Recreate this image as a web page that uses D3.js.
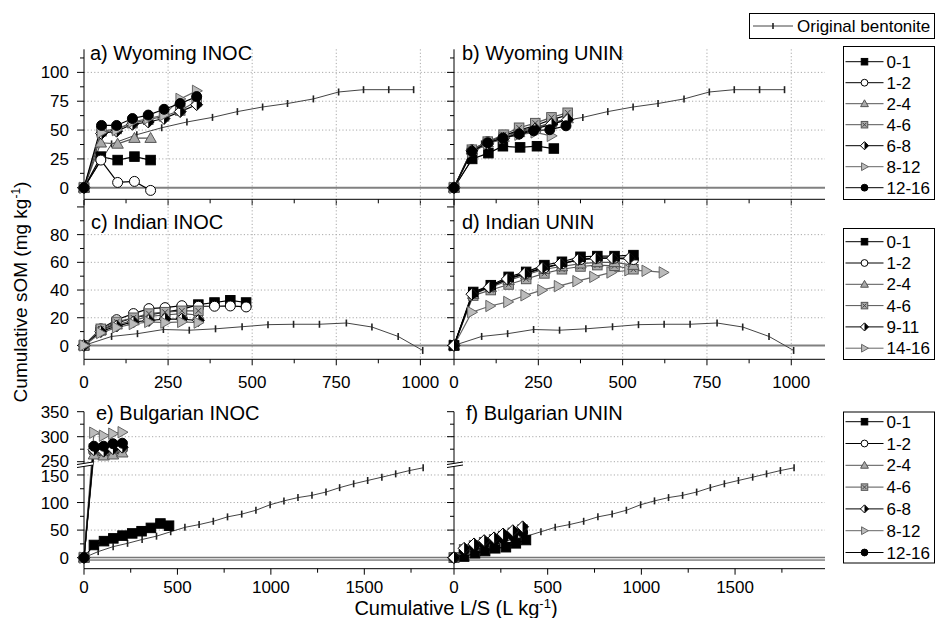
<!DOCTYPE html>
<html>
<head>
<meta charset="utf-8">
<script src="https://cdn.jsdelivr.net/npm/d3@7"></script>
<style>
  body { margin: 0; background: #fff; }
  svg text { font-family: "Liberation Sans", Arial, sans-serif; fill: #000; }
</style>
</head>
<body>
<div id="chart"></div>
<script>
// ---- data ----
const layersA = ["0-1", "1-2", "2-4", "4-6", "6-8", "8-12", "12-16"];
const layersIndian = ["0-1", "1-2", "2-4", "4-6", "9-11", "14-16"];

// original bentonite (same curve in both panels of a row)
const bentWyX = [0, 82, 157, 231, 306, 382, 456, 531, 605, 682, 757, 831, 906, 980];
const bentWyY = [0, 38, 46, 52, 57, 61, 66, 70, 73, 77, 83, 85, 85, 85];
const bentInX = [0, 82, 159, 236, 313, 391, 470, 547, 623, 700, 780, 856, 934, 1007];
const bentInY = [0, 6.5, 8.5, 11.5, 11, 12, 13.5, 15, 15.3, 15.3, 16.2, 13.3, 6.5, -3.6];
const bentBgX = [0, 76, 156, 233, 311, 388, 464, 540, 616, 692, 768, 844, 920, 996, 1070, 1145, 1220, 1295, 1368, 1443, 1518, 1594, 1668, 1742, 1815];
const bentBgY = [0, 11, 20, 26, 33, 39, 47, 55, 60, 66, 74, 79, 86, 96, 103, 109, 113, 119, 127, 134, 140, 146, 152, 158, 163];

// a) Wyoming INOC
const wyInocXs = [0, 50, 100, 150, 198];
const wyInocXl = [0, 52, 97, 144, 191, 238, 286, 335];
const wyInoc01 = [0, 27, 24, 27, 24];
const wyInoc12 = [0, 24, 4.6, 5.5, -2.3];
const wyInoc24 = [0, 39, 38, 43, 43];
const wyInoc46 = [0, 49, 51, 56, 59, 62, 67, 75];
const wyInoc68 = [0, 47, 49, 55, 57, 60, 66, 72];
const wyInoc812 = [0, 48, 50, 57, 60, 63, 77, 84];
const wyInoc1216 = [0, 54, 54, 60, 63, 68, 73, 79];

// b) Wyoming UNIN
const wyUnX01 = [0, 54, 102, 145, 196, 246, 296];
const wyUnX = [0, 53, 100, 147, 193, 241, 289, 337];
const wyUnX1216 = [0, 53, 100, 145, 193, 236, 284, 332];
const wyUn01 = [0, 25, 30, 36, 35, 36, 34];
const wyUn12 = [0, 33, 40, 45, 50, 54, 59, 63];
const wyUn24 = [0, 33, 39, 44, 48, 52, 56, 60];
const wyUn46 = [0, 33, 40, 46, 52, 56, 61, 65];
const wyUn68 = [0, 32, 38, 43, 47, 51, 55, 59];
const wyUn812 = [0, 31, 38, 43, 46, 48, 45];
const wyUn1216 = [0, 31.5, 39, 43, 46.5, 49.4, 50.3, 53.7];

// c) Indian INOC
const inInX = [0, 50, 97, 147, 193, 241, 291, 340, 388, 435, 482];
const inIn01 = [0, 11, 16, 20, 22, 24, 26, 29.5, 31, 32.6, 31];
const inIn12 = [0, 12, 18.6, 23, 26.6, 27.3, 28.7, 28.3, 28.3, 28.5, 27.8];
const inIn24 = [0, 11, 15, 18, 21, 22, 23, 22];
const inIn46 = [0, 12, 17, 20, 23, 24, 25, 25];
const inIn911 = [0, 10, 14, 17, 18, 19, 19, 18];
const inIn1416 = [0, 9, 13, 15.5, 17, 16.5, 17, 16.5];

// d) Indian UNIN
const inUnX = [0, 57, 109, 162, 214, 268, 320, 375, 425, 476, 532];
const inUnX911 = [0, 53, 105, 158, 210, 262, 315, 368, 420, 470, 520];
const inUnX1416 = [0, 53, 107, 160, 211, 261, 310, 365, 415, 466, 519, 570, 621];
const inUn01 = [0, 38.6, 43.5, 49.5, 53.1, 58, 60.4, 64, 64.5, 64.5, 65.2];
const inUn12 = [0, 38, 43, 48, 52, 56, 59, 62, 63, 63, 62];
const inUn24 = [0, 37, 42, 47, 51, 55, 57, 59, 60, 60, 58];
const inUn46 = [0, 36, 40, 44, 48, 52, 55, 57, 58, 57.5, 55];
const inUn911 = [0, 37, 42, 48, 52, 56, 59, 62, 63, 63, 63];
const inUn1416 = [0, 24, 28.5, 31.4, 36.2, 39.9, 42.8, 46.4, 49.5, 52.7, 54.3, 53.9, 52.7];

// e) Bulgarian INOC
const bgInX01 = [0, 53, 107, 157, 206, 258, 308, 358, 409, 455];
const bgInX = [0, 53, 105, 155, 205];
const bgIn01 = [0, 23, 30, 35, 40, 44, 48, 54, 62, 58];
const bgIn12 = [0, 270, 268, 272, 275];
const bgIn24 = [0, 264, 262, 264, 268];
const bgIn46 = [0, 276, 273, 278, 281];
const bgIn68 = [0, 274, 271, 276, 279];
const bgIn812 = [0, 308, 302, 306, 309];
const bgIn1216 = [0, 281, 281, 286, 287];

// f) Bulgarian UNIN
const bgUnX01 = [0, 54, 112, 166, 220, 277, 330, 384];
const bgUnX = [0, 54, 107, 161, 214, 262, 314, 366];
const bgUn01 = [0, 2, 8, 12, 17, 19, 26, 32];
const bgUn46 = [0, 15, 22, 28, 33, 39, 45, 51];
const bgUn68 = [0, 17, 25, 31, 36, 43, 49, 56];
const bgUn1216 = [0, 13, 20, 25, 30, 35, 40, 46];

const xTicksTop = [0, 250, 500, 750, 1000];
const xTicksBg = [0, 500, 1000, 1500];
const yTicksWy = [0, 25, 50, 75, 100];
const yTicksIn = [0, 20, 40, 60, 80];
const yTicksBgLow = [0, 50, 100, 150];
const yTicksBgHigh = [250, 300, 350];

// ---- styles ----
const mk = {
  "0-1":   { shape: "square", fill: "#000", stroke: "#000", line: "#000" },
  "1-2":   { shape: "circle", fill: "#fff", stroke: "#000", line: "#000" },
  "2-4":   { shape: "triUp", fill: "#aaa", stroke: "#555", line: "#555" },
  "4-6":   { shape: "xsq", fill: "#aaa", stroke: "#555", line: "#555" },
  "6-8":   { shape: "half", fill: "#fff", stroke: "#000", line: "#000" },
  "9-11":  { shape: "half", fill: "#fff", stroke: "#000", line: "#000" },
  "8-12":  { shape: "triRight", fill: "#bbb", stroke: "#666", line: "#666" },
  "14-16": { shape: "triRight", fill: "#bbb", stroke: "#666", line: "#666" },
  "12-16": { shape: "circle", fill: "#000", stroke: "#000", line: "#000" }
};

const W = 937, H = 618;
const svg = d3.select("#chart").append("svg").attr("width", W).attr("height", H);
svg.append("rect").attr("width", W).attr("height", H).attr("fill", "#fff");

function marker(g, shape, cx, cy, s, st) {
  const h = s / 2;
  if (shape === "square") {
    g.append("rect").attr("x", cx - h).attr("y", cy - h).attr("width", s).attr("height", s)
      .attr("fill", st.fill).attr("stroke", st.stroke).attr("stroke-width", 1);
  } else if (shape === "circle") {
    g.append("circle").attr("cx", cx).attr("cy", cy).attr("r", h * 1.05)
      .attr("fill", st.fill).attr("stroke", st.stroke).attr("stroke-width", 1);
  } else if (shape === "triUp") {
    const r = h * 1.2;
    g.append("path").attr("d", `M${cx},${cy - r}L${cx + r},${cy + r * 0.75}L${cx - r},${cy + r * 0.75}Z`)
      .attr("fill", st.fill).attr("stroke", st.stroke).attr("stroke-width", 1);
  } else if (shape === "triRight") {
    const r = h * 1.2;
    g.append("path").attr("d", `M${cx + r},${cy}L${cx - r * 0.75},${cy - r}L${cx - r * 0.75},${cy + r}Z`)
      .attr("fill", st.fill).attr("stroke", st.stroke).attr("stroke-width", 1);
  } else if (shape === "xsq") {
    g.append("rect").attr("x", cx - h).attr("y", cy - h).attr("width", s).attr("height", s)
      .attr("fill", st.fill).attr("stroke", st.stroke).attr("stroke-width", 1);
    const q = h * 0.6;
    g.append("path").attr("d", `M${cx - q},${cy - q}L${cx + q},${cy + q}M${cx + q},${cy - q}L${cx - q},${cy + q}`)
      .attr("stroke", "#444").attr("stroke-width", 1).attr("fill", "none");
  } else if (shape === "half") {
    const r = h * 1.25;
    g.append("path").attr("d", `M${cx},${cy - r}L${cx + r},${cy}L${cx},${cy + r}L${cx - r},${cy}Z`)
      .attr("fill", "#fff").attr("stroke", "none");
    g.append("path").attr("d", `M${cx},${cy - r}L${cx + r},${cy}L${cx},${cy + r}Z`).attr("fill", "#000");
    g.append("path").attr("d", `M${cx},${cy - r}L${cx + r},${cy}L${cx},${cy + r}L${cx - r},${cy}Z`)
      .attr("fill", "none").attr("stroke", "#000").attr("stroke-width", 1);
  }
}

// ---- panel geometry ----
const cols = [[84, 454], [454, 825]];
const rows = [
  { top: 49.3, bot: 199.3, dom: [-10, 120], xdom: [0, 1100] },
  { top: 200, bot: 359.3, dom: [-10, 105], xdom: [0, 1100] },
  { top: 411.7, bot: 568.7, xdom: [0, 1980] }
];
const yLowBg = d3.scaleLinear().domain([-20, 165]).range([568.7, 466.7]);
const yHighBg = d3.scaleLinear().domain([244, 350]).range([464.7, 411.7]);
const yBg = v => (v >= 200 ? yHighBg(v) : yLowBg(v));

function makePanel(ri, ci, cfg) {
  const row = rows[ri], [x0, x1] = cols[ci];
  const x = d3.scaleLinear().domain(row.xdom).range([x0, x1]);
  const y = ri === 2 ? yBg : d3.scaleLinear().domain(row.dom).range([row.bot, row.top]);
  const g = svg.append("g");

  // grid
  cfg.grid.forEach(v => g.append("line").attr("x1", x0).attr("x2", x1).attr("y1", y(v)).attr("y2", y(v))
    .attr("stroke", "#aaa").attr("stroke-dasharray", "1.2,2.2").attr("stroke-width", 1));
  (cfg.vgrid || []).forEach(v => g.append("line").attr("x1", x(v)).attr("x2", x(v)).attr("y1", row.top).attr("y2", row.bot)
    .attr("stroke", "#aaa").attr("stroke-dasharray", "1.2,2.2").attr("stroke-width", 1));

  // zero line
  if (ri === 2) {
    g.append("line").attr("x1", x0).attr("x2", x1).attr("y1", y(0) + 1).attr("y2", y(0) + 1)
      .attr("stroke", "#777").attr("stroke-width", 4);
    g.append("line").attr("x1", x0).attr("x2", x1).attr("y1", y(0) + 1).attr("y2", y(0) + 1)
      .attr("stroke", "#d8d8d8").attr("stroke-width", 1.5);
  } else {
    g.append("line").attr("x1", x0).attr("x2", x1).attr("y1", y(0)).attr("y2", y(0))
      .attr("stroke", "#808080").attr("stroke-width", 2);
  }

  // axes
  g.append("line").attr("x1", x0).attr("x2", x0).attr("y1", row.top).attr("y2", row.bot).attr("stroke", "#000");
  g.append("line").attr("x1", x0).attr("x2", x1).attr("y1", row.bot).attr("y2", row.bot).attr("stroke", "#000");
  cfg.yMajor.forEach(v => {
    g.append("line").attr("x1", x0 - 7).attr("x2", x0).attr("y1", y(v)).attr("y2", y(v)).attr("stroke", "#000");
    if (ci === 0 && cfg.yLabels.includes(v))
      g.append("text").attr("x", 69).attr("y", y(v) + (cfg.yShift ? (cfg.yShift[v] || 0) : 0)).attr("dy", "0.36em")
        .attr("text-anchor", "end").attr("font-size", 17).text(v);
  });
  cfg.yMinor.forEach(v => g.append("line").attr("x1", x0 - 4).attr("x2", x0).attr("y1", y(v)).attr("y2", y(v)).attr("stroke", "#000"));
  cfg.xMajor.forEach(v => {
    g.append("line").attr("x1", x(v)).attr("x2", x(v)).attr("y1", row.bot).attr("y2", row.bot + 6).attr("stroke", "#000");
    if (cfg.xLabels) g.append("text").attr("x", x(v)).attr("y", cfg.xLabelY).attr("text-anchor", "middle")
      .attr("font-size", 17).text(v);
  });
  cfg.xMinor.forEach(v => g.append("line").attr("x1", x(v)).attr("x2", x(v)).attr("y1", row.bot).attr("y2", row.bot + 4).attr("stroke", "#000"));

  // original bentonite
  const bx = cfg.bent[0], by = cfg.bent[1];
  const pts = bx.map((v, i) => [x(v), y(by[i])]);
  g.append("path").attr("d", d3.line()(pts)).attr("fill", "none").attr("stroke", "#444").attr("stroke-width", 1);
  pts.slice(1).forEach(p => g.append("line").attr("x1", p[0]).attr("x2", p[0]).attr("y1", p[1] - 3.5).attr("y2", p[1] + 3.5)
    .attr("stroke", "#222").attr("stroke-width", 1.6));

  // series
  cfg.series.forEach(s => {
    const st = mk[s.name];
    const p = s.x.map((v, i) => [x(v), y(s.y[i])]);
    g.append("path").attr("d", d3.line()(p)).attr("fill", "none").attr("stroke", st.line).attr("stroke-width", 1.2);
  });
  cfg.series.forEach(s => {
    const st = mk[s.name];
    s.x.forEach((v, i) => marker(g, st.shape, x(v), y(s.y[i]), 9.5, st));
  });

  g.append("text").attr("x", cfg.titleX).attr("y", cfg.titleY).attr("font-size", 20).text(cfg.title);
  return g;
}

const rowCfg = [
  { grid: [25, 50, 75, 100], vgrid: [250, 500, 750, 1000], yMajor: yTicksWy, yLabels: yTicksWy,
    yMinor: [12.5, 37.5, 62.5, 87.5, 112.5], xMajor: xTicksTop, xMinor: [125, 375, 625, 875], xLabels: false,
    bent: [bentWyX, bentWyY], titleY: 60 },
  { grid: [20, 40, 60, 80], vgrid: [250, 500, 750, 1000], yMajor: [...yTicksIn, 100], yLabels: yTicksIn,
    yMinor: [10, 30, 50, 70, 90], xMajor: xTicksTop, xMinor: [125, 375, 625, 875], xLabels: true, xLabelY: 388,
    bent: [bentInX, bentInY], titleY: 229 },
  { grid: [50, 100, 150, 250, 300], yMajor: [...yTicksBgLow, ...yTicksBgHigh], yLabels: [...yTicksBgLow, ...yTicksBgHigh],
    yShift: { 250: -1, 150: 1 },
    yMinor: [25, 75, 125, 275, 325], xMajor: xTicksBg, xMinor: [250, 750, 1250, 1750], xLabels: true, xLabelY: 593,
    bent: [bentBgX, bentBgY], titleY: 420 }
];

const S = (name, x, y) => ({ name, x, y });
makePanel(0, 0, Object.assign({}, rowCfg[0], { title: "a) Wyoming INOC", titleX: 90, series: [
  S("0-1", wyInocXs, wyInoc01), S("1-2", wyInocXs, wyInoc12), S("2-4", wyInocXs, wyInoc24),
  S("4-6", wyInocXl, wyInoc46), S("6-8", wyInocXl, wyInoc68), S("8-12", wyInocXl, wyInoc812), S("12-16", wyInocXl, wyInoc1216)] }));
makePanel(0, 1, Object.assign({}, rowCfg[0], { title: "b) Wyoming UNIN", titleX: 462, series: [
  S("0-1", wyUnX01, wyUn01), S("1-2", wyUnX, wyUn12), S("2-4", wyUnX, wyUn24),
  S("4-6", wyUnX, wyUn46), S("6-8", wyUnX, wyUn68), S("8-12", wyUnX.slice(0, 7), wyUn812), S("12-16", wyUnX1216, wyUn1216)] }));
makePanel(1, 0, Object.assign({}, rowCfg[1], { title: "c) Indian INOC", titleX: 91, series: [
  S("0-1", inInX, inIn01), S("1-2", inInX, inIn12), S("2-4", inInX.slice(0, 8), inIn24),
  S("4-6", inInX.slice(0, 8), inIn46), S("9-11", inInX.slice(0, 8), inIn911), S("14-16", inInX.slice(0, 8), inIn1416)] }));
makePanel(1, 1, Object.assign({}, rowCfg[1], { title: "d) Indian UNIN", titleX: 462, series: [
  S("14-16", inUnX1416, inUn1416), S("4-6", inUnX, inUn46), S("2-4", inUnX, inUn24), S("1-2", inUnX, inUn12),
  S("0-1", inUnX, inUn01), S("9-11", inUnX911, inUn911)] }));
makePanel(2, 0, Object.assign({}, rowCfg[2], { title: "e) Bulgarian INOC", titleX: 96, series: [
  S("0-1", bgInX01, bgIn01), S("1-2", bgInX, bgIn12), S("2-4", bgInX, bgIn24), S("4-6", bgInX, bgIn46),
  S("6-8", bgInX, bgIn68), S("8-12", bgInX, bgIn812), S("12-16", bgInX, bgIn1216)] }));
makePanel(2, 1, Object.assign({}, rowCfg[2], { title: "f) Bulgarian UNIN", titleX: 466, series: [
  S("0-1", bgUnX01, bgUn01), S("4-6", bgUnX, bgUn46), S("12-16", bgUnX, bgUn1216), S("6-8", bgUnX, bgUn68)] }));

// axis break marks on the Bulgarian panels
cols.forEach(([x0]) => {
  const gb = svg.append("g");
  gb.append("path").attr("d", `M${x0 - 7},${467.5}L${x0 + 9},${465}L${x0 + 9},${462}L${x0 - 7},${464.5}Z`)
    .attr("fill", "#fff").attr("stroke", "none");
  gb.append("path").attr("d", `M${x0 - 7},${467.5}L${x0 + 9},${465}M${x0 - 7},${464.5}L${x0 + 9},${462}`)
    .attr("stroke", "#000").attr("stroke-width", 1);
});

// ---- legends ----
function legend(x, y, w, h, names, step, y0) {
  const g = svg.append("g");
  g.append("rect").attr("x", x).attr("y", y).attr("width", w).attr("height", h)
    .attr("fill", "#fff").attr("stroke", "#000").attr("stroke-width", 1);
  names.forEach((n, i) => {
    const st = mk[n], cy = y0 + i * step;
    g.append("line").attr("x1", x + 2).attr("x2", x + 40).attr("y1", cy).attr("y2", cy).attr("stroke", st.line);
    marker(g, st.shape, x + 21, cy, 6.5, st);
    g.append("text").attr("x", x + 43).attr("y", cy).attr("dy", "0.36em").attr("font-size", 17).text(n);
  });
}
// original bentonite key
const gk = svg.append("g");
gk.append("rect").attr("x", 749.5).attr("y", 13.5).attr("width", 185).attr("height", 25)
  .attr("fill", "#fff").attr("stroke", "#000");
gk.append("line").attr("x1", 753).attr("x2", 793).attr("y1", 26).attr("y2", 26).attr("stroke", "#444");
gk.append("line").attr("x1", 773).attr("x2", 773).attr("y1", 23).attr("y2", 29).attr("stroke", "#222").attr("stroke-width", 1.6);
gk.append("text").attr("x", 797).attr("y", 26).attr("dy", "0.36em").attr("font-size", 17).text("Original bentonite");

legend(843.5, 46.5, 91, 153, layersA, 21, 61.7);
legend(843.5, 228.5, 91, 131, layersIndian, 21.3, 241.7);
legend(843.5, 412, 91, 151, layersA, 21.8, 421.7);

// ---- axis titles ----
const yt = svg.append("text").attr("transform", "translate(27,292) rotate(-90)").attr("text-anchor", "middle").attr("font-size", 19);
yt.append("tspan").text("Cumulative sOM (mg kg");
yt.append("tspan").attr("dy", -7).attr("font-size", 12).text("-1");
yt.append("tspan").attr("dy", 7).text(")");

const xt = svg.append("text").attr("x", 456).attr("y", 615).attr("text-anchor", "middle").attr("font-size", 20);
xt.append("tspan").text("Cumulative L/S (L kg");
xt.append("tspan").attr("dy", -7).attr("font-size", 13).text("-1");
xt.append("tspan").attr("dy", 7).text(")");
</script>
</body>
</html>
